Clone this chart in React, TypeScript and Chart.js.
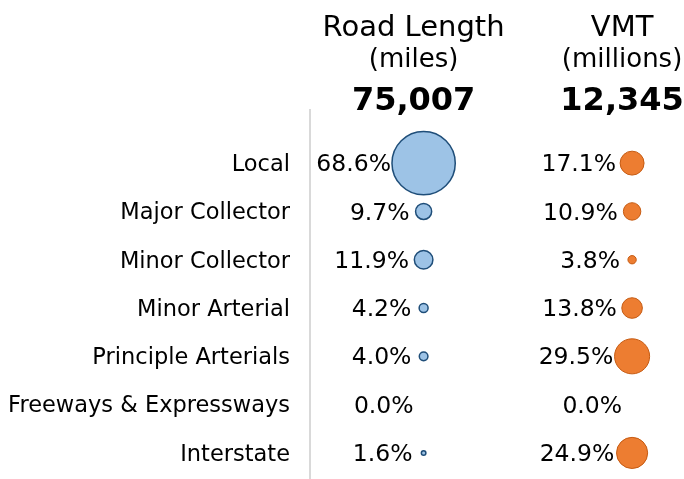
import React, { useEffect, useRef } from "react";
import { Chart, registerables } from "chart.js";

Chart.register(...registerables);

const categories = [
  "Local",
  "Major Collector",
  "Minor Collector",
  "Minor Arterial",
  "Principle Arterials",
  "Freeways & Expressways",
  "Interstate",
];
const roadPct = [68.6, 9.7, 11.9, 4.2, 4.0, 0.0, 1.6];
const vmtPct = [17.1, 10.9, 3.8, 13.8, 29.5, 0.0, 24.9];
const columnTitles = ["Road Length", "VMT"];
const columnUnits = ["(miles)", "(millions)"];
const columnTotals = ["75,007", "12,345"];

const FONT = "'DejaVu Sans', 'Liberation Sans', sans-serif";
const W = 684;
const H = 479;

const radiusOf = (v: number) => (v > 0 ? 1.64 * Math.pow(v, 0.7) : 0);

export default function App() {
  const ref = useRef<HTMLCanvasElement | null>(null);

  useEffect(() => {
    const canvas = ref.current;
    if (!canvas) return;

    const labelPlugin = {
      id: "pctLabels",
      afterDatasetsDraw(chart: any) {
        const ctx = chart.ctx;
        ctx.save();
        ctx.font = `23.5px ${FONT}`;
        ctx.fillStyle = "#000";
        ctx.textAlign = "right";
        ctx.textBaseline = "middle";
        chart.data.datasets.forEach((ds: any, di: number) => {
          const meta = chart.getDatasetMeta(di);
          const vals = di === 0 ? roadPct : vmtPct;
          meta.data.forEach((el: any, i: number) => {
            const v = vals[i];
            const r = radiusOf(v);
            const off = Math.max(r + 1, 10 + 0.5 * r);
            ctx.fillText(v.toFixed(1) + "%", el.x - off, el.y + 2);
          });
        });
        ctx.restore();
      },
      afterDraw(chart: any) {
        const ctx = chart.ctx;
        const xs = chart.scales.x;
        ctx.save();
        ctx.fillStyle = "#000";
        ctx.textAlign = "center";
        ctx.textBaseline = "alphabetic";
        [0, 1].forEach((c) => {
          const cx = xs.getPixelForValue(c) - 10;
          ctx.font = `29px ${FONT}`;
          ctx.fillText(columnTitles[c], cx, 36);
          ctx.font = `26px ${FONT}`;
          ctx.fillText(columnUnits[c], cx, 67);
          ctx.font = `bold 32px ${FONT}`;
          ctx.fillText(columnTotals[c], cx, 110);
        });
        ctx.restore();
      },
    };

    const chart = new Chart(canvas, {
      type: "bubble",
      data: {
        datasets: [
          {
            label: "Road Length",
            data: roadPct.map((v, i) => ({ x: 0, y: i, r: radiusOf(v) })),
            backgroundColor: "#9dc3e6",
            borderColor: "#1f4e79",
            borderWidth: 1.5,
            clip: false as any,
          },
          {
            label: "VMT",
            data: vmtPct.map((v, i) => ({ x: 1, y: i, r: radiusOf(v) })),
            backgroundColor: "#ed7d31",
            borderColor: "#c55a11",
            borderWidth: 1,
            clip: false as any,
          },
        ],
      },
      options: {
        responsive: false,
        animation: false,
        events: [],
        layout: { autoPadding: false, padding: { top: 110, right: 0, bottom: 0, left: 0 } },
        plugins: {
          legend: { display: false },
          tooltip: { enabled: false },
        },
        scales: {
          x: {
            type: "linear",
            display: false,
            min: -0.545,
            max: 1.249,
          },
          y: {
            type: "linear",
            reverse: true,
            min: -1.1,
            max: 6.54,
            grid: { display: false, drawTicks: false },
            border: { display: true, color: "#d9d9d9", width: 2 },
            afterBuildTicks: (scale: any) => {
              scale.ticks = categories.map((_, i) => ({ value: i }));
            },
            afterFit: (scale: any) => {
              scale.width = 310;
              scale.paddingTop = 0;
              scale.paddingBottom = 0;
            },
            ticks: {
              autoSkip: false,
              padding: 20,
              labelOffset: 2,
              color: "#000",
              font: { family: FONT, size: 22.5 },
              callback: (v: any) => categories[Math.round(Number(v))] ?? "",
            },
          },
        },
      },
      plugins: [labelPlugin],
    });

    return () => chart.destroy();
  }, []);

  return (
    <div style={{ position: "absolute", left: 0, top: 0, width: W, height: H, background: "#fff" }}>
      <canvas ref={ref} width={W} height={H} style={{ display: "block" }} />
    </div>
  );
}
